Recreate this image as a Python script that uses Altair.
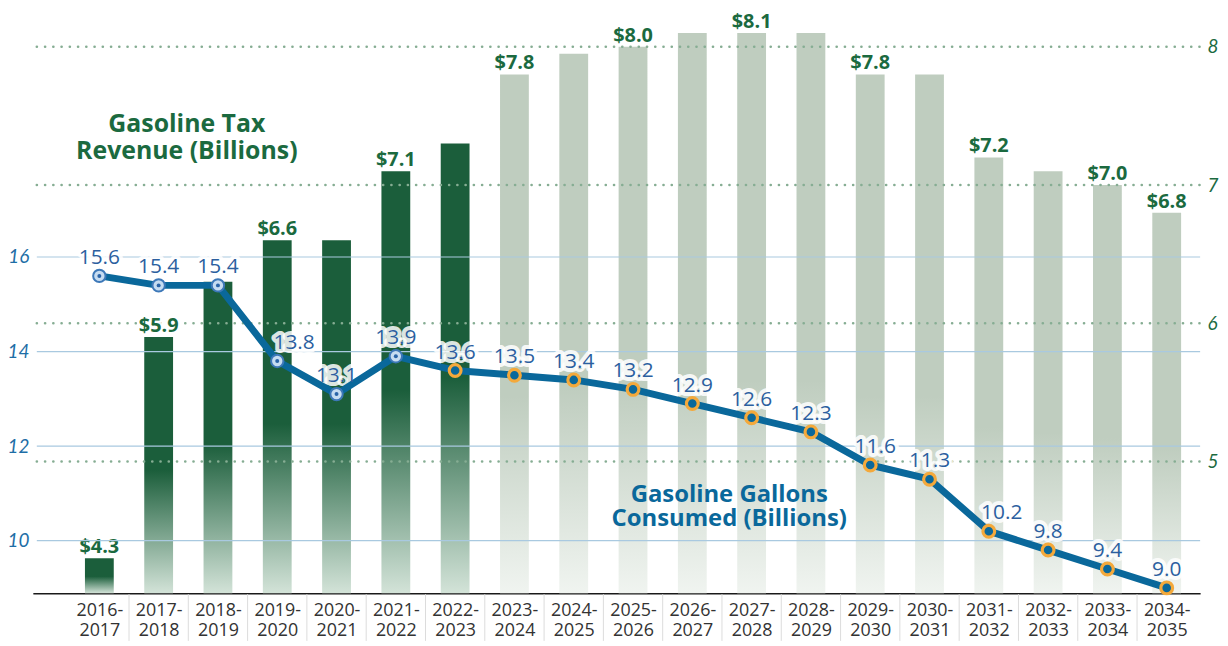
import json
import altair as alt
import pandas as pd

# ---------------- data ----------------
periods = ["2016-2017", "2017-2018", "2018-2019", "2019-2020", "2020-2021",
           "2021-2022", "2022-2023", "2023-2024", "2024-2025", "2025-2026",
           "2026-2027", "2027-2028", "2028-2029", "2029-2030", "2030-2031",
           "2031-2032", "2032-2033", "2033-2034", "2034-2035"]
revenue = [4.3, 5.9, 6.3, 6.6, 6.6, 7.1, 7.3, 7.8, 7.95, 8.0,
           8.1, 8.1, 8.1, 7.8, 7.8, 7.2, 7.1, 7.0, 6.8]
revenue_label_shown = [True, True, False, True, False, True, False, True, False, True,
                       False, True, False, True, False, True, False, True, True]
gallons = [15.6, 15.4, 15.4, 13.8, 13.1, 13.9, 13.6, 13.5, 13.4, 13.2,
           12.9, 12.6, 12.3, 11.6, 11.3, 10.2, 9.8, 9.4, 9.0]
n_actual_revenue = 7   # dark (historical) bars
n_actual_gallons = 6   # light-blue (historical) markers
left_ticks = [10, 12, 14, 16]
right_ticks = [5, 6, 7, 8]
revenue_title = ["Gasoline Tax", "Revenue (Billions)"]
gallons_title = ["Gasoline Gallons", "Consumed (Billions)"]

n = len(periods)
df = pd.DataFrame({
    "idx": list(range(n)),
    "period": periods,
    "revenue": revenue,
    "gallons": gallons,
    "rev_actual": [i < n_actual_revenue for i in range(n)],
    "gal_actual": [i < n_actual_gallons for i in range(n)],
    "show_rev": revenue_label_shown,
    "rev_label": ["$" + f"{v:.1f}" for v in revenue],
    "gal_label": [f"{v:.1f}" for v in gallons],
})
sep_df = pd.DataFrame({"idx": [i + 0.5 for i in range(n - 1)]})
left_df = pd.DataFrame({"v": left_ticks})
right_df = pd.DataFrame({"v": right_ticks})

# ---------------- styling ----------------
W, H = 1175, 583
FONT = "Open Sans"
DARK_GREEN = "#1b5e3b"
LABEL_GREEN = "#1b6a3f"
SAGE = "#bfcdbf"
LINE_BLUE = "#0a689b"
LABEL_BLUE = "#2c5f9f"
AXIS_BLUE = "#1e6ea6"

REV_MIN, REV_MAX = 4.047, 8.237
GAL_MIN, GAL_MAX = 8.887, 21.14

x_labels = [[p.split("-")[0] + "-", p.split("-")[1]] for p in periods]
x_label_expr = json.dumps(x_labels) + "[datum.value]"

x_scale = alt.Scale(domain=[-1.038, 18.48], nice=False, zero=False)
x_axis = alt.Axis(values=list(range(n)), labelExpr=x_label_expr, title=None,
                  grid=False, ticks=False, tickSize=0, domain=True,
                  domainColor="#1a1a1a", domainWidth=1.5,
                  labelFont="Open Sans", labelFontSize=18, labelColor="#333333",
                  labelLineHeight=21, labelPadding=8, labelOverlap=False,
                  labelFlush=False)
X = alt.X("idx:Q", scale=x_scale, axis=x_axis)

rev_scale = alt.Scale(domain=[REV_MIN, REV_MAX], nice=False, zero=False)
gal_scale = alt.Scale(domain=[GAL_MIN, GAL_MAX], nice=False, zero=False)
rev_axis = alt.Axis(orient="right", values=right_ticks, title=None, grid=False,
                    ticks=False, domain=False, labelFont="Lato", labelFontSize=19,
                    labelFontStyle="italic", labelColor=LABEL_GREEN, labelPadding=7)
gal_axis = alt.Axis(orient="left", values=left_ticks, title=None, grid=False,
                    ticks=False, domain=False, labelFont="Lato", labelFontSize=19,
                    labelFontStyle="italic", labelColor=AXIS_BLUE, labelPadding=4)


def RY(field):
    return alt.Y(field, scale=rev_scale, axis=rev_axis)


def GY(field):
    return alt.Y(field, scale=gal_scale, axis=gal_axis)


base = alt.Chart(df)

dark_grad = alt.Gradient(gradient="linear", x1=0, x2=0, y1=0, y2=1,
                         stops=[alt.GradientStop(color=DARK_GREEN, offset=0),
                                alt.GradientStop(color=DARK_GREEN, offset=0.52),
                                alt.GradientStop(color="#d3e3d8", offset=1)])
sage_grad = alt.Gradient(gradient="linear", x1=0, x2=0, y1=0, y2=1,
                         stops=[alt.GradientStop(color=SAGE, offset=0),
                                alt.GradientStop(color=SAGE, offset=0.62),
                                alt.GradientStop(color="#f0f4f0", offset=1)])

bars_actual = base.transform_filter("datum.rev_actual").mark_bar(
    size=29, color=dark_grad).encode(x=X, y=RY("revenue:Q"), y2=alt.datum(REV_MIN))
bars_fore = base.transform_filter("!datum.rev_actual").mark_bar(
    size=29, color=sage_grad).encode(x=X, y=RY("revenue:Q"), y2=alt.datum(REV_MIN))

dotted = alt.Chart(right_df).mark_rule(
    color="#86ad93", strokeWidth=2.6, strokeDash=[0.1, 8.2], strokeCap="round"
).encode(y=RY("v:Q"), x=alt.value(4), x2=alt.value(W))

rev_text_halo = base.transform_filter("datum.show_rev").mark_text(
    font=FONT, fontSize=20, fontWeight="bold", baseline="alphabetic", dy=-5,
    stroke="white", strokeWidth=5, strokeOpacity=0.9, strokeJoin="round", color="white"
).encode(x=X, y=RY("revenue:Q"), text="rev_label:N")
rev_text = base.transform_filter("datum.show_rev").mark_text(
    font=FONT, fontSize=20, fontWeight="bold", baseline="alphabetic", dy=-5,
    color=LABEL_GREEN
).encode(x=X, y=RY("revenue:Q"), text="rev_label:N")

separators = alt.Chart(sep_df).mark_rule(color="#dcdcdc", strokeWidth=1).encode(
    x=X, y=alt.value(H + 1), y2=alt.value(H + 48))

rev_title = alt.Chart(pd.DataFrame({"t": [revenue_title]})).mark_text(
    font=FONT, fontSize=25, fontWeight="bold", color=LABEL_GREEN, align="center",
    baseline="alphabetic", lineHeight=26.5
).encode(text="t:N", x=alt.value(155), y=alt.value(119))

rev_group = alt.layer(bars_actual, bars_fore, dotted, rev_text_halo, rev_text,
                      separators, rev_title)

solid = alt.Chart(left_df).mark_rule(color="#a9c9e0", strokeWidth=1.2).encode(
    y=GY("v:Q"), x=alt.value(4), x2=alt.value(W))

line = base.mark_line(color=LINE_BLUE, strokeWidth=7, strokeJoin="round").encode(
    x=X, y=GY("gallons:Q"))

pts_hist = base.transform_filter("datum.gal_actual").mark_circle(
    size=155, fill="#c6dcf1", stroke="#3d78b8", strokeWidth=2, opacity=1
).encode(x=X, y=GY("gallons:Q"))
pts_hist_dot = base.transform_filter("datum.gal_actual").mark_circle(
    size=16, color="#2a64a8", opacity=1).encode(x=X, y=GY("gallons:Q"))
pts_fore = base.transform_filter("!datum.gal_actual").mark_circle(
    size=140, fill=LINE_BLUE, stroke="#f4a93b", strokeWidth=3.2, opacity=1
).encode(x=X, y=GY("gallons:Q"))


def gal_labels(filt, dx):
    common = dict(font=FONT, fontSize=21, baseline="alphabetic", dy=-12, dx=dx)
    halo = base.transform_filter(filt).mark_text(
        stroke="white", strokeWidth=8, strokeOpacity=0.85, strokeJoin="round",
        color="white", **common).encode(x=X, y=GY("gallons:Q"), text="gal_label:N")
    txt = base.transform_filter(filt).mark_text(color=LABEL_BLUE, **common).encode(
        x=X, y=GY("gallons:Q"), text="gal_label:N")
    return halo, txt


h0, t0 = gal_labels("datum.idx != 3 && datum.idx != 15 && datum.idx != 13", 0)
h1, t1 = gal_labels("datum.idx == 3", 17)
h2, t2 = gal_labels("datum.idx == 15", 13)
h3, t3 = gal_labels("datum.idx == 13", 5)

gal_title = alt.Chart(pd.DataFrame({"t": [gallons_title]})).mark_text(
    font=FONT, fontSize=24, fontWeight="bold", color=LINE_BLUE, align="center",
    baseline="alphabetic", lineHeight=24.5
).encode(text="t:N", x=alt.value(701), y=alt.value(491))

gal_group = alt.layer(solid, h0, h1, h2, h3, gal_title, line, pts_hist, pts_hist_dot,
                      pts_fore, t0, t1, t2, t3)

chart = alt.layer(rev_group, gal_group).resolve_scale(y="independent").properties(
    width=W, height=H,
    autosize=alt.AutoSizeParams(type="none"),
    padding={"left": 25, "top": 4, "right": 20, "bottom": 48},
    background="white",
).configure_view(stroke=None)

chart.save("out.html", embed_options={"renderer": "svg", "actions": False})
